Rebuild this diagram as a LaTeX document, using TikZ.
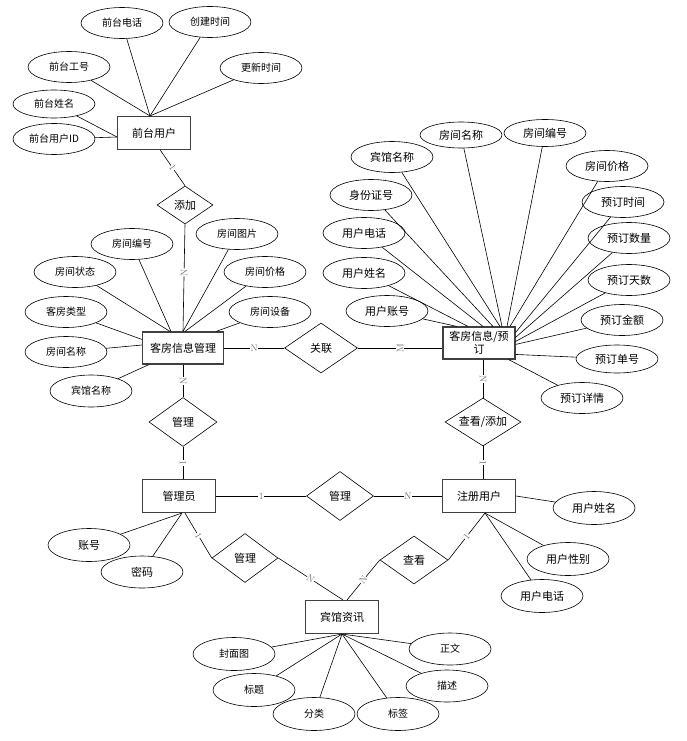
\documentclass[tikz,border=0pt]{standalone}
\usepackage{fontspec}
\newfontfamily\cjk{Noto Sans CJK SC}
\usetikzlibrary{shapes.geometric}

\begin{document}
\begin{tikzpicture}[x=1pt,y=-1pt,line width=0.6pt,
    entity/.style={draw=black!75,line width=1.1pt,fill=white,minimum width=73pt,minimum height=33pt,inner sep=1pt,align=center,font=\cjk\fontsize{11}{13}\selectfont},
    rel/.style={diamond,draw,fill=white,aspect=1.5,inner sep=0pt,font=\cjk\fontsize{11}{13}\selectfont},
    attr/.style={ellipse,draw,fill=white,minimum width=82pt,minimum height=31pt,inner sep=0pt,font=\cjk\fontsize{10}{12}\selectfont},
    attrb/.style={attr,font=\cjk\fontsize{11}{13}\selectfont},
    card/.style={fill=white,inner sep=0.4pt,text=black!55,font=\fontsize{9.5}{9.5}\selectfont}]
    \useasboundingbox (0,0) rectangle (687,741);

    % entities
    \node[entity] (qtyh) at (154,133) {前台用户};
    \node[entity,minimum width=81pt,minimum height=32pt] (kfgl) at (183,348) {客房信息管理};
    \node[entity,minimum width=72pt,minimum height=32pt] (kfyd) at (479,343) {客房信息/预\\订};
    \node[entity] (gly) at (179,496) {管理员};
    \node[entity] (zcyh) at (479,496) {注册用户};
    \node[entity] (bgzx) at (342,617) {宾馆资讯};

    % relations
    \node[rel,minimum width=56pt,minimum height=38pt] (tj) at (185,205) {添加};
    \node[rel,minimum width=68pt,minimum height=49pt] (gl1) at (183,422) {管理};
    \node[rel,minimum width=73pt,minimum height=50pt] (gllian) at (321,348) {关联};
    \node[rel,minimum width=76pt,minimum height=48pt] (ckjtj) at (483,422) {查看/添加};
    \node[rel,minimum width=67pt,minimum height=49pt] (gl2) at (340,496) {管理};
    \node[rel,minimum width=66pt,minimum height=49pt] (gl3) at (245,558) {管理};
    \node[rel,minimum width=68pt,minimum height=48pt] (ck) at (414,560) {查看};

    % attributes of 前台用户
    \node[attr] (qtdh) at (122,23) {前台电话};
    \node[attr] (cjsj) at (210,22) {创建时间};
    \node[attr] (qtgh) at (69,67) {前台工号};
    \node[attr] (gxsj) at (261,68) {更新时间};
    \node[attr,minimum height=28pt] (qtxm) at (54,104) {前台姓名};
    \node[attr] (qtid) at (54,139) {前台用户ID};

    % attributes of 客房信息管理
    \node[attr] (fjbh) at (132,244) {房间编号};
    \node[attr] (fjtp) at (237,234) {房间图片};
    \node[attr] (fjzt) at (75,272) {房间状态};
    \node[attr] (fjjg) at (265,272) {房间价格};
    \node[attr] (kflx) at (66,312) {客房类型};
    \node[attr] (fjsb) at (270,312) {房间设备};
    \node[attr] (fjmc) at (66,352) {房间名称};
    \node[attr,minimum height=32pt] (bgmc) at (91,391) {宾馆名称};

    % attributes of 客房信息/预订
    \node[attrb] (ydbgmc) at (392,157) {宾馆名称};
    \node[attrb,minimum height=26pt] (ydfjmc) at (461,135) {房间名称};
    \node[attrb,minimum height=27pt] (ydfjbh) at (545,133) {房间编号};
    \node[attrb] (ydfjjg) at (607,166) {房间价格};
    \node[attrb] (sfzh) at (371,195) {身份证号};
    \node[attrb] (ydsj) at (623,202) {预订时间};
    \node[attrb] (yhdh) at (364,233) {用户电话};
    \node[attrb] (ydsl) at (629,238) {预订数量};
    \node[attrb] (yhxm) at (364,273) {用户姓名};
    \node[attrb] (ydts) at (629,280) {预订天数};
    \node[attrb] (yhzh) at (387,311) {用户账号};
    \node[attrb] (ydje) at (622,320) {预订金额};
    \node[attrb,minimum height=28pt] (yddh) at (617,359) {预订单号};
    \node[attrb] (ydxq) at (582,398) {预订详情};

    % attributes of 管理员 and 注册用户
    \node[attrb,minimum height=33pt] (zh) at (89,545) {账号};
    \node[attrb,minimum height=32pt] (mm) at (142,572) {密码};
    \node[attrb,minimum height=33pt] (zcxm) at (594,508) {用户姓名};
    \node[attrb,minimum height=33pt] (zcxb) at (568,559) {用户性别};
    \node[attrb,minimum height=33pt] (zcdh) at (542,596) {用户电话};

    % attributes of 宾馆资讯
    \node[attr,minimum height=33pt] (fmt) at (234,654) {封面图};
    \node[attr,minimum height=33pt] (bt) at (254,690) {标题};
    \node[attr,minimum height=33pt] (fl) at (314,714) {分类};
    \node[attr,minimum height=33pt] (bq) at (398,714) {标签};
    \node[attr,minimum height=32pt] (zw) at (450,649) {正文};
    \node[attr,minimum height=32pt] (ms) at (447,686) {描述};

    % attribute lines
    \draw (qtdh) -- ([xshift=-4pt]qtyh.north);
    \draw (cjsj) -- ([xshift=-4pt]qtyh.north);
    \draw (qtgh) -- ([xshift=-4pt]qtyh.north);
    \draw (gxsj) -- ([xshift=-4pt]qtyh.north);
    \draw (qtxm) -- ([yshift=-4pt]qtyh.west);
    \draw (qtid) -- ([yshift=-4pt]qtyh.west);

    \draw (fjbh) -- ([xshift=-12pt]kfgl.north);
    \draw (fjzt) -- ([xshift=-13pt]kfgl.north);
    \draw (fjtp) -- (kfgl.north);
    \draw (fjjg) -- ([xshift=2pt]kfgl.north);
    \draw (fjsb) -- ([xshift=33pt]kfgl.north);
    \draw (kflx) -- ([yshift=-8pt]kfgl.north west);
    \draw (fjmc) -- ([yshift=3pt]kfgl.west);
    \draw (bgmc) -- ([xshift=7pt]kfgl.south west);

    \draw (yhzh) -- ([xshift=-22pt]kfyd.north);
    \draw (yhxm) -- ([xshift=-11pt]kfyd.north);
    \draw (yhdh) -- ([xshift=4pt]kfyd.north);
    \draw (sfzh) -- ([xshift=14pt]kfyd.north);
    \draw (ydbgmc) -- ([xshift=21pt]kfyd.north);
    \draw (ydfjmc) -- ([xshift=23pt]kfyd.north);
    \draw (ydfjbh) -- ([xshift=28pt]kfyd.north);
    \draw (ydfjjg) -- ([xshift=31pt]kfyd.north);
    \draw (ydsj) -- ([yshift=-6pt]kfyd.north east);
    \draw (ydsl) -- ([yshift=-11pt]kfyd.north east);
    \draw (ydts) -- ([yshift=-15pt]kfyd.north east);
    \draw (ydje) -- ([yshift=-18pt]kfyd.north east);
    \draw (yddh) -- ([yshift=-28pt]kfyd.north east);
    \draw (ydxq) -- ([xshift=-7pt]kfyd.south east);

    \draw (zh) -- ([xshift=3pt]gly.south);
    \draw (mm) -- ([xshift=3pt]gly.south);
    \draw (zcxm) -- (zcyh.east);
    \draw (zcxb) -- ([xshift=6pt]zcyh.south);
    \draw (zcdh) -- ([xshift=6pt]zcyh.south);

    \draw (fmt) -- (bgzx.south);
    \draw (bt) -- (bgzx.south);
    \draw (fl) -- (bgzx.south);
    \draw (bq) -- (bgzx.south);
    \draw (zw) -- (bgzx.south);
    \draw (ms) -- (bgzx.south);

    % relation lines
    \draw (qtyh.-70) -- node[card,sloped] {1} (tj.north);
    \draw (tj.south) -- node[card,sloped,pos=0.45] {N} (kfgl.north);
    \draw (kfgl) -- node[card] {N} (gllian);
    \draw (gllian.east) -- node[card,rotate=90] {M} (gllian.east -| kfyd.west);
    \draw (kfgl.south) -- node[card,sloped] {N} (gl1.north);
    \draw (gl1.south) -- node[card,sloped] {1} (gl1.south |- gly.north);
    \draw (gly) -- node[card] {1} (gl2);
    \draw (gl2) -- node[card] {N} (zcyh);
    \draw (ckjtj.north |- kfyd.south) -- node[card,sloped] {N} (ckjtj.north);
    \draw (ckjtj.south) -- node[card,sloped] {1} (ckjtj.south |- zcyh.north);
    \draw ([xshift=6pt]gly.south) -- node[card,sloped] {1} (gl3.west);
    \draw (gl3.east) -- node[card,sloped] {N} ([xshift=1pt]bgzx.north);
    \draw ([xshift=6pt]zcyh.south) -- node[card,sloped] {1} (ck.east);
    \draw (ck.west) -- node[card,sloped] {N} ([xshift=5pt]bgzx.north);
\end{tikzpicture}
\end{document}
